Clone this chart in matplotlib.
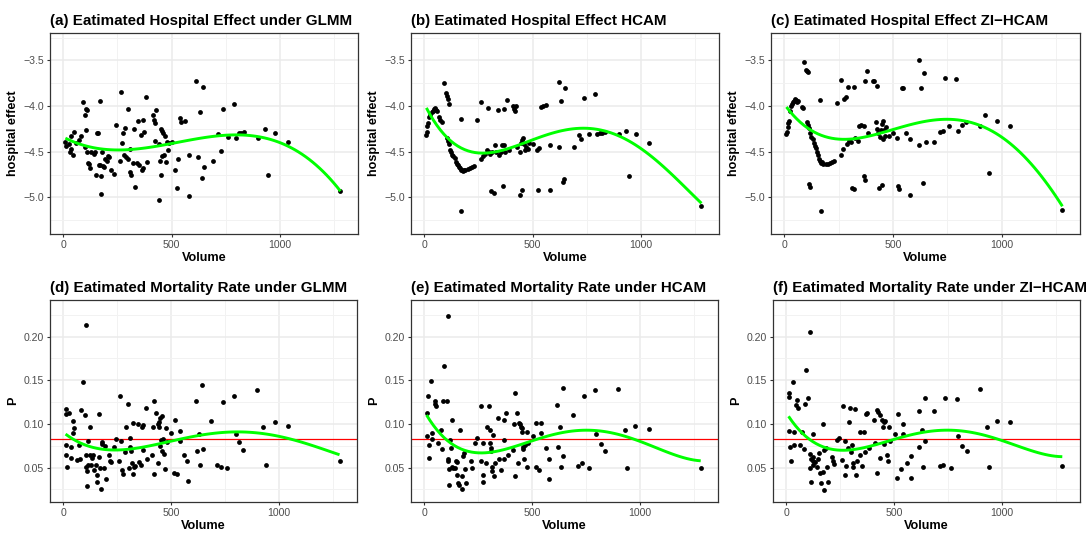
import numpy as np
import matplotlib
matplotlib.use("Agg")
import matplotlib.pyplot as plt
from matplotlib.ticker import FixedLocator
from numpy.polynomial import Polynomial

plt.rcParams['font.family'] = ['Liberation Sans', 'DejaVu Sans']

# ---------------- data ----------------
vol_a = [10,15,25,30,35,38,45,50,60,75,80,90,100,105,110,105,100,110,115,120,125,130,140,145,150,155,160,165,170,170,
         175,175,180,185,190,195,200,205,210,220,235,245,260,265,270,275,280,285,290,300,300,310,310,315,320,325,330,340,
         345,350,360,365,370,370,375,380,385,415,420,425,425,430,440,440,445,450,450,455,455,460,465,470,475,480,485,490,
         500,515,525,530,540,545,560,580,580,615,620,630,640,645,650,690,715,730,740,760,790,800,810,820,835,900,930,945,
         980,1040,1280]
eff_a = [-4.39,-4.44,-4.42,-4.50,-4.47,-4.33,-4.54,-4.28,-4.40,-4.37,-4.33,-3.95,-4.10,-4.03,-4.04,-4.26,-4.45,-4.50,
         -4.62,-4.63,-4.68,-4.50,-4.52,-4.50,-4.75,-4.30,-4.29,-4.65,-3.94,-4.65,-4.76,-4.96,-4.50,-4.66,-4.67,-4.58,-4.60,
         -4.55,-4.56,-4.70,-4.74,-4.21,-4.60,-3.85,-4.40,-4.30,-4.53,-4.24,-4.56,-4.03,-4.58,-4.47,-4.72,-4.75,-4.62,-4.25,
         -4.89,-4.62,-4.16,-4.64,-4.32,-4.70,-4.15,-4.68,-4.28,-3.90,-4.61,-4.10,-4.15,-4.18,-4.38,-4.04,-4.42,-5.03,-4.60,
         -4.25,-4.75,-4.27,-4.55,-4.30,-4.53,-4.33,-4.61,-4.39,-4.48,-4.40,-4.39,-4.70,-4.90,-4.58,-4.13,-4.17,-4.16,-4.53,
         -4.98,-3.73,-4.56,-4.07,-4.79,-3.79,-4.67,-4.60,-4.31,-4.49,-4.03,-4.34,-3.98,-4.35,-4.30,-4.30,-4.28,-4.35,-4.25,
         -4.75,-4.30,-4.39,-4.93]

vol_b = [10,12,15,18,22,28,35,40,45,50,55,60,70,75,80,90,100,105,110,115,105,110,115,120,125,130,135,140,145,150,155,
         160,165,170,175,180,185,190,200,210,220,230,170,170,245,260,260,270,280,290,295,300,305,310,315,320,325,330,340,
         345,355,360,365,370,370,375,380,390,410,415,420,425,430,440,440,445,450,450,455,460,465,470,480,485,500,520,525,
         530,540,550,560,580,580,620,620,630,640,645,650,690,715,725,740,760,790,800,810,820,835,900,930,945,980,1040,1280]
eff_b = [-4.32,-4.28,-4.22,-4.19,-4.12,-4.10,-4.07,-4.05,-4.03,-4.02,-4.04,-4.05,-4.12,-4.15,-4.17,-3.75,-3.86,-3.89,
         -3.92,-3.98,-4.35,-4.38,-4.42,-4.48,-4.50,-4.53,-4.55,-4.57,-4.61,-4.63,-4.65,-4.67,-4.68,-4.70,-4.70,-4.71,-4.70,
         -4.70,-4.69,-4.68,-4.67,-4.66,-4.14,-5.15,-4.15,-3.96,-4.58,-4.55,-4.52,-4.48,-4.02,-4.50,-4.52,-4.93,-4.50,-4.95,
         -4.43,-4.50,-4.04,-4.53,-4.50,-4.43,-4.87,-4.03,-4.43,-4.50,-3.93,-4.48,-4.00,-4.03,-4.05,-4.00,-4.45,-4.97,-4.50,
         -4.40,-4.37,-4.92,-4.35,-4.42,-4.48,-4.45,-4.47,-4.40,-4.42,-4.48,-4.92,-4.46,-4.01,-4.00,-3.99,-4.43,-4.92,-3.74,
         -4.45,-3.94,-4.83,-4.80,-3.80,-4.45,-4.32,-4.36,-3.91,-4.31,-3.87,-4.31,-4.30,-4.29,-4.28,-4.31,-4.27,-4.77,-4.31,
         -4.40,-5.09]

vol_c = [10,12,15,18,22,28,32,35,40,45,50,55,60,65,80,85,90,100,105,110,105,110,115,120,125,130,135,140,145,150,155,160,
         165,170,175,180,190,200,210,220,230,115,120,165,170,245,260,260,270,275,285,290,295,300,305,310,320,320,325,340,
         345,355,365,365,370,370,380,385,410,415,420,425,425,430,435,440,445,450,450,455,455,460,465,470,480,500,520,525,
         530,540,545,560,580,580,620,620,630,640,645,650,690,715,730,740,760,790,800,820,835,900,925,940,980,1040,1280]
eff_c = [-4.31,-4.28,-4.23,-4.19,-4.16,-4.05,-4.00,-3.98,-3.96,-3.94,-3.92,-3.93,-3.95,-3.94,-4.01,-4.02,-3.52,-3.60,
         -3.62,-3.63,-4.17,-4.21,-4.24,-4.30,-4.34,-4.36,-4.40,-4.44,-4.46,-4.50,-4.54,-4.58,-4.60,-4.62,-4.61,-4.63,-4.63,
         -4.63,-4.62,-4.61,-4.60,-4.85,-4.89,-3.93,-5.15,-3.97,-3.71,-4.53,-4.47,-3.92,-3.90,-4.41,-3.79,-4.38,-4.39,-4.90,
         -3.79,-4.91,-4.35,-4.38,-4.22,-4.21,-4.22,-4.77,-3.73,-4.81,-3.62,-4.30,-3.72,-3.73,-4.17,-3.78,-4.25,-4.30,-4.90,
         -4.34,-4.26,-4.20,-4.86,-4.16,-4.36,-4.26,-4.33,-4.23,-4.33,-4.29,-4.35,-4.88,-4.91,-3.80,-3.80,-4.29,-4.36,-4.97,
         -3.50,-4.43,-3.80,-4.84,-3.64,-4.39,-4.39,-4.28,-4.27,-3.69,-4.22,-3.70,-4.27,-4.21,-4.17,-4.22,-4.10,-4.73,-4.16,
         -4.22,-5.14]

vol_d = [11,15,28,11,15,20,34,36,46,49,46,62,74,80,83,91,100,105,108,111,108,111,116,117,123,125,128,135,140,145,150,155,
         158,165,168,172,175,178,182,190,195,198,210,215,220,235,245,260,263,270,273,276,285,290,298,305,308,310,312,318,
         322,325,330,335,345,350,360,365,370,372,385,390,410,415,420,422,430,438,440,445,445,448,450,455,458,460,462,465,
         470,475,480,500,515,520,525,540,542,560,575,580,615,618,630,635,645,648,685,712,730,740,760,790,800,815,835,900,
         925,940,980,1040,1280]
p_d = [0.111,0.117,0.113,0.076,0.065,0.051,0.061,0.074,0.103,0.095,0.090,0.059,0.076,0.060,0.116,0.148,0.110,0.064,
       0.051,0.029,0.213,0.046,0.080,0.053,0.097,0.065,0.053,0.061,0.064,0.047,0.053,0.041,0.033,0.062,0.111,0.049,0.026,
       0.079,0.077,0.050,0.075,0.037,0.064,0.058,0.056,0.074,0.083,0.058,0.132,0.081,0.047,0.043,0.068,0.097,0.123,0.050,
       0.084,0.074,0.069,0.055,0.101,0.043,0.051,0.052,0.100,0.056,0.053,0.097,0.070,0.099,0.118,0.060,0.064,0.096,0.126,
       0.043,0.113,0.100,0.055,0.102,0.096,0.075,0.107,0.082,0.069,0.109,0.083,0.066,0.048,0.095,0.079,0.090,0.044,0.104,
       0.043,0.092,0.081,0.065,0.058,0.035,0.126,0.069,0.089,0.053,0.145,0.071,0.103,0.053,0.051,0.125,0.049,0.132,0.088,
       0.079,0.070,0.139,0.097,0.053,0.102,0.098,0.058]

vol_e = [11,18,15,22,23,31,37,37,49,52,54,62,77,82,86,94,106,111,111,111,113,113,120,122,128,128,134,142,147,150,153,
         159,162,168,173,173,181,185,188,196,216,222,236,245,261,262,272,272,273,285,293,298,304,304,309,310,312,313,320,
         324,327,343,346,357,369,369,371,381,389,412,414,420,423,428,435,440,446,449,451,455,457,460,462,465,474,478,483,
         502,520,520,531,540,542,562,580,580,617,619,628,636,644,645,688,714,731,741,764,790,796,818,838,900,929,940,978,
         1040,1281]
p_e = [0.113,0.132,0.086,0.076,0.061,0.149,0.090,0.083,0.126,0.123,0.121,0.078,0.093,0.071,0.126,0.166,0.126,0.224,
       0.060,0.058,0.048,0.030,0.082,0.072,0.105,0.051,0.050,0.050,0.058,0.056,0.041,0.032,0.030,0.093,0.040,0.025,0.063,
       0.067,0.048,0.032,0.058,0.050,0.078,0.084,0.058,0.120,0.078,0.041,0.034,0.055,0.096,0.120,0.093,0.078,0.072,0.069,
       0.051,0.046,0.087,0.040,0.055,0.107,0.060,0.047,0.105,0.082,0.060,0.112,0.064,0.070,0.100,0.135,0.040,0.113,0.055,
       0.101,0.100,0.097,0.091,0.095,0.074,0.071,0.060,0.076,0.051,0.091,0.078,0.086,0.101,0.051,0.047,0.101,0.090,0.073,
       0.060,0.037,0.122,0.074,0.096,0.051,0.063,0.141,0.110,0.052,0.055,0.132,0.049,0.139,0.088,0.077,0.069,0.140,0.093,
       0.050,0.098,0.094,0.050]

vol_f = [11,15,14,18,22,31,37,37,48,46,54,62,75,82,85,92,103,111,109,116,112,117,122,123,126,126,134,142,149,154,157,
         162,169,171,174,176,185,188,196,214,217,223,236,245,260,262,271,271,276,288,293,297,302,305,308,311,319,323,326,
         342,342,350,362,365,369,375,383,408,411,419,422,426,434,436,442,447,453,454,459,465,470,478,481,504,514,519,530,
         539,540,560,578,578,615,616,627,633,642,642,685,711,728,738,763,789,796,815,837,898,928,938,978,1038,1279]
p_f = [0.136,0.131,0.092,0.074,0.058,0.148,0.091,0.076,0.128,0.122,0.118,0.076,0.091,0.071,0.123,0.162,0.130,0.205,
       0.050,0.034,0.066,0.060,0.062,0.053,0.088,0.058,0.056,0.051,0.060,0.067,0.044,0.032,0.100,0.045,0.024,0.070,0.073,
       0.051,0.034,0.062,0.058,0.054,0.082,0.084,0.059,0.120,0.081,0.041,0.052,0.072,0.102,0.118,0.068,0.076,0.055,0.051,
       0.117,0.041,0.058,0.064,0.091,0.052,0.091,0.068,0.111,0.113,0.072,0.104,0.078,0.116,0.044,0.114,0.061,0.110,0.104,
       0.097,0.102,0.077,0.103,0.065,0.058,0.096,0.081,0.089,0.038,0.111,0.048,0.100,0.088,0.055,0.063,0.038,0.115,0.074,
       0.093,0.051,0.081,0.130,0.115,0.052,0.053,0.130,0.049,0.129,0.086,0.075,0.069,0.140,0.097,0.051,0.103,0.102,0.052]

mean_rate = 0.083

titles = ["(a) Eatimated Hospital Effect under GLMM",
          "(b) Eatimated Hospital Effect HCAM",
          "(c) Eatimated Hospital Effect ZI\u2212HCAM",
          "(d) Eatimated Mortality Rate under GLMM",
          "(e) Eatimated Mortality Rate under HCAM",
          "(f) Eatimated Mortality Rate under ZI\u2212HCAM"]
x_ticks = [0, 500, 1000]
x_minor = [250, 750, 1250]
top_ticks = [-5.0, -4.5, -4.0, -3.5]
top_minor = [-5.25, -4.75, -4.25, -3.75, -3.25]
bot_ticks = [0.05, 0.10, 0.15, 0.20]
bot_minor = [0.025, 0.075, 0.125, 0.175, 0.225]
smooth_degree = 4   # polynomial smoother (lm, y ~ poly(x, 4))

W, H = 1090, 534
fig = plt.figure(figsize=(W / 100, H / 100), dpi=100)

# panel boxes in pixels: left, right, top, bottom
boxes = [(50, 358, 33, 234), (411, 719, 33, 234), (771, 1080, 33, 234),
         (50, 357, 300, 502), (411, 718, 300, 502), (773, 1080, 300, 502)]

datasets = [(vol_a, eff_a), (vol_b, eff_b), (vol_c, eff_c),
            (vol_d, p_d), (vol_e, p_e), (vol_f, p_f)]

for i, ((l, r, t, b), (xv, yv)) in enumerate(zip(boxes, datasets)):
    ax = fig.add_axes([l / W, 1 - b / H, (r - l) / W, (b - t) / H])
    ax.set_facecolor('white')
    top_row = i < 3
    ax.set_xlim(-61, 1361)
    if top_row:
        ax.set_ylim(-5.4, -3.2)
        ax.yaxis.set_major_locator(FixedLocator(top_ticks))
        ax.yaxis.set_minor_locator(FixedLocator(top_minor))
        ax.set_yticklabels(["\u22125.0", "\u22124.5", "\u22124.0", "\u22123.5"])
        ax.set_ylabel("hospital effect", fontsize=9.1, fontweight='bold', labelpad=3)
    else:
        ax.set_ylim(0.0106, 0.242)
        ax.yaxis.set_major_locator(FixedLocator(bot_ticks))
        ax.yaxis.set_minor_locator(FixedLocator(bot_minor))
        ax.set_yticklabels(["0.05", "0.10", "0.15", "0.20"])
        ax.set_ylabel("P", fontsize=9.1, fontweight='bold', labelpad=3)
    ax.xaxis.set_major_locator(FixedLocator(x_ticks))
    ax.xaxis.set_minor_locator(FixedLocator(x_minor))
    ax.set_xticklabels([str(v) for v in x_ticks])
    ax.grid(True, which='major', color='#EBEBEB', linewidth=1.1, zorder=0)
    ax.grid(True, which='minor', color='#F2F2F2', linewidth=0.7, zorder=0)
    ax.set_axisbelow(True)
    for s in ax.spines.values():
        s.set_color('#333333')
        s.set_linewidth(0.9)
    ax.tick_params(which='major', length=2.5, width=0.8, color='#333333',
                   labelsize=7.6, labelcolor='#4D4D4D', pad=2)
    ax.tick_params(which='minor', length=0)
    ax.set_xlabel("Volume", fontsize=9.1, fontweight='bold', labelpad=1.5)
    ax.set_title(titles[i], loc='left', fontsize=10.9, fontweight='bold', pad=6)

    ax.scatter(xv, yv, s=12, color='black', linewidths=0, zorder=3)
    if not top_row:
        ax.axhline(mean_rate, color='#FF0000', linewidth=0.9, zorder=2)
    xa = np.asarray(xv, float)
    fit = Polynomial.fit(xa, np.asarray(yv, float), smooth_degree)
    xs = np.linspace(xa.min(), xa.max(), 80)
    ax.plot(xs, fit(xs), color='#00FF00', linewidth=2.1, zorder=4, solid_capstyle='butt')

fig.savefig("out.png", dpi=100)
